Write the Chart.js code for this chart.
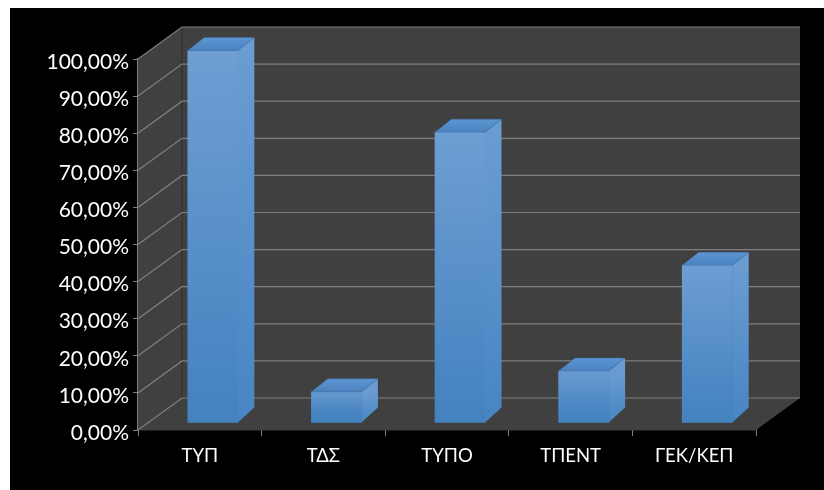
<!DOCTYPE html>
<html>
<head>
<meta charset="utf-8">
<style>
  html, body { margin: 0; padding: 0; background: #fff; }
  #back { position: absolute; left: 10px; top: 8px; right: 0; bottom: 0; width: 814px; height: 482px; background: #000; }
  canvas { display: block; position: absolute; left: 0; top: 0; }
</style>
<script src="https://cdn.jsdelivr.net/npm/chart.js@4"></script>
</head>
<body>
<div id="back"></div>
<canvas id="myChart" width="824" height="490"></canvas>
<script>
var categories = ['ΤΥΠ', 'ΤΔΣ', 'ΤΥΠΟ', 'ΤΠΕΝΤ', 'ΓΕΚ/ΚΕΠ'];
var values = [100.4, 8.4, 78.4, 14, 42.5];
var tickLabels = ['0,00%', '10,00%', '20,00%', '30,00%', '40,00%', '50,00%', '60,00%', '70,00%', '80,00%', '90,00%', '100,00%'];

// depth of the box behind the axes, and of the bars standing inside it
var wallDx = 44, wallDy = 32;
var barShiftX = 13, barShiftY = 7;
var barDx = 16.5, barDy = 13;
var yLabelDrop = 3;

var box3d = {
  id: 'box3d',
  // y labels sit a little under their tick marks
  beforeDraw: function (chart) {
    var items = chart.scales.y.getLabelItems(chart.chartArea);
    if (items.dropped) return;
    items.forEach(function (it) { it.options.translation[1] += yLabelDrop; });
    items.dropped = true;
  },
  // walls and floor go under the bars
  beforeDatasetsDraw: function (chart) {
    var c = chart.ctx, a = chart.chartArea, y = chart.scales.y;
    c.save();
    c.fillStyle = '#404040';
    c.beginPath();
    c.moveTo(a.left, a.top);
    c.lineTo(a.left + wallDx, a.top - wallDy);
    c.lineTo(a.right + wallDx, a.top - wallDy);
    c.lineTo(a.right + wallDx, a.bottom - wallDy);
    c.lineTo(a.right, a.bottom);
    c.lineTo(a.left, a.bottom);
    c.closePath();
    c.fill();

    c.strokeStyle = '#2e2e2e';
    c.lineWidth = 1;
    c.beginPath();
    c.moveTo(a.left + wallDx, a.top - wallDy);
    c.lineTo(a.left + wallDx, a.bottom - wallDy);
    c.stroke();

    c.strokeStyle = '#7f7f7f';
    c.lineWidth = 1.2;
    y.ticks.forEach(function (t) {
      var py = y.getPixelForValue(t.value);
      c.beginPath();
      c.moveTo(a.left, py);
      c.lineTo(a.left + wallDx, py - wallDy);
      c.lineTo(a.right + wallDx, py - wallDy);
      c.stroke();
    });
    c.restore();

    // bars stand a bit behind the front edge of the floor
    c.save();
    c.translate(barShiftX, -barShiftY);
  },
  afterDatasetsDraw: function (chart) {
    var c = chart.ctx;
    chart.getDatasetMeta(0).data.forEach(function (el) {
      var right = el.x + el.width / 2, left = el.x - el.width / 2;
      var g = c.createLinearGradient(0, el.y, 0, el.base);
      g.addColorStop(0, '#6a9cd2');
      g.addColorStop(1, '#4785c3');
      c.fillStyle = g;
      c.beginPath();
      c.moveTo(right, el.y);
      c.lineTo(right + barDx, el.y - barDy);
      c.lineTo(right + barDx, el.base - barDy - 2);
      c.lineTo(right, el.base);
      c.closePath();
      c.fill();

      g = c.createLinearGradient(0, el.y, 0, el.y - barDy);
      g.addColorStop(0, '#4a83bf');
      g.addColorStop(1, '#5c96d3');
      c.fillStyle = g;
      c.beginPath();
      c.moveTo(left, el.y);
      c.lineTo(left + barDx, el.y - barDy);
      c.lineTo(right + barDx, el.y - barDy);
      c.lineTo(right, el.y);
      c.closePath();
      c.fill();

      c.strokeStyle = 'rgba(60,105,160,0.55)';
      c.lineWidth = 0.7;
      c.stroke();
    });
    c.restore();
  }
};

var ctx = document.getElementById('myChart').getContext('2d');
var myChart = new Chart(ctx, {
  type: 'bar',
  data: {
    labels: categories,
    datasets: [{
      data: values,
      clip: false,
      barThickness: 50,
      borderWidth: 0,
      backgroundColor: function (context) {
        var chart = context.chart;
        if (!chart.chartArea || context.parsed === undefined) return '#5b90c8';
        var y = chart.scales.y;
        var g = chart.ctx.createLinearGradient(0, y.getPixelForValue(context.parsed.y) - barShiftY, 0, y.getPixelForValue(0) - barShiftY);
        g.addColorStop(0, '#6f9fd3');
        g.addColorStop(1, '#4482c0');
        return g;
      }
    }]
  },
  options: {
    responsive: false,
    animation: false,
    layout: { padding: { top: 59, right: 68, left: 0, bottom: 0 } },
    plugins: { legend: { display: false }, tooltip: { enabled: false } },
    scales: {
      x: {
        afterFit: function (s) { s.height = 60; },
        border: { color: '#7f7f7f', width: 1.2 },
        grid: { drawOnChartArea: false, color: '#7f7f7f', tickLength: 6 },
        ticks: { color: '#fff', font: { family: 'Lato', size: 18.5 }, padding: 9, maxRotation: 0 }
      },
      y: {
        min: 0,
        max: 100,
        afterFit: function (s) { s.width = 138; },
        border: { color: '#7f7f7f', width: 1.2 },
        grid: { drawOnChartArea: false, color: '#7f7f7f', tickLength: 5 },
        ticks: {
          stepSize: 10,
          color: '#fff',
          font: { family: 'Lato', size: 21 },
          padding: 4,
          autoSkip: false,
          callback: function (v, i) { return tickLabels[i]; }
        }
      }
    }
  },
  plugins: [box3d]
});
</script>
</body>
</html>
